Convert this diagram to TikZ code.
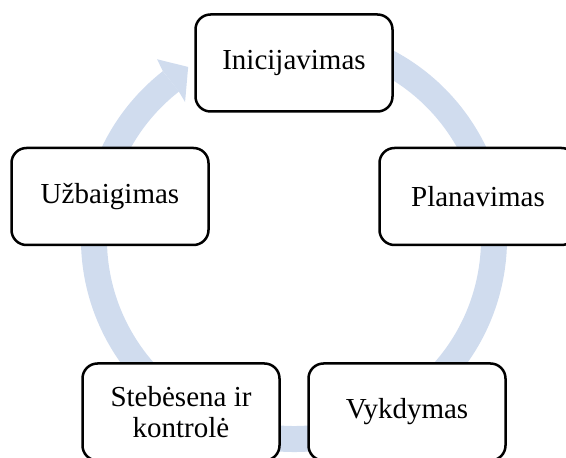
\documentclass[tikz,border=0pt]{standalone}
\usepackage{fontspec}
\setmainfont{Liberation Serif}
\usetikzlibrary{calc}
\definecolor{cyc}{RGB}{208,220,238}
\begin{document}
\begin{tikzpicture}[x=1pt,y=1pt,
  stage/.style={draw=black,line width=2.5pt,fill=white,rounded corners=15pt,
    minimum width=197pt,minimum height=97pt,inner sep=0pt,align=center,
    font=\fontsize{29}{31}\selectfont}]
\useasboundingbox (0,0) rectangle (566,458);
\clip (0,0) rectangle (566,458);
\coordinate (c) at (294,219);
% cycle arrow
\draw[cyc,line width=26pt] ($(c)+(80:200)$) arc[start angle=80,end angle=-232,radius=200];
\fill[cyc] ($(c)+(127.3:226)$) -- ($(c)+(121.6:202)$) -- ($(c)+(128.5:175)$) -- ($(c)+(128:187)$) -- ($(c)+(128:213)$) -- cycle;
% stages
\node[stage] (ini) at (294,395) {Inicijavimas};
\node[stage] (pla) at (478,261.5) {Planavimas};
\node[stage] (vyk) at (407,46) {Vykdymas};
\node[stage] (ste) at (181,46) {Stebėsena ir\\kontrolė};
\node[stage] (uzb) at (110,261.5) {Užbaigimas};
\end{tikzpicture}
\end{document}
